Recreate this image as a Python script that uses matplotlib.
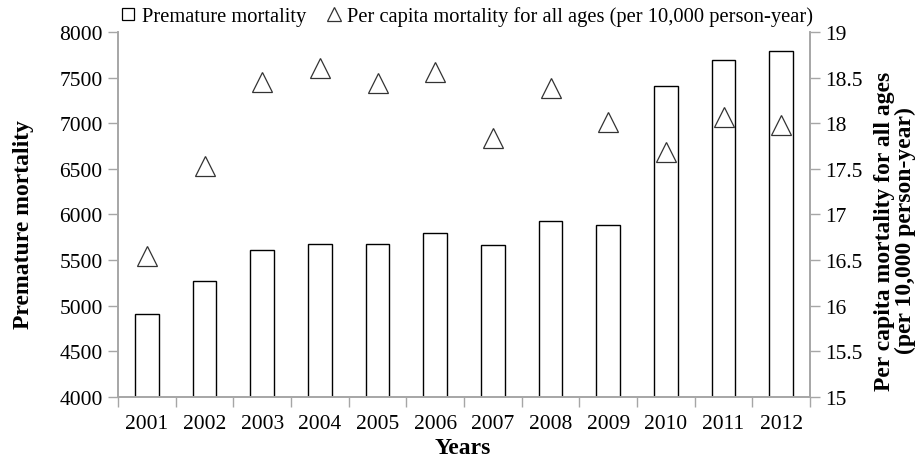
import numpy as np
import matplotlib
matplotlib.use("Agg")
import matplotlib.pyplot as plt
from matplotlib.lines import Line2D
from matplotlib.ticker import FixedLocator, NullFormatter

plt.rcParams["font.family"] = ["Liberation Serif", "DejaVu Serif"]

years = ["2001", "2002", "2003", "2004", "2005", "2006",
         "2007", "2008", "2009", "2010", "2011", "2012"]
premature = [4910, 5268, 5611, 5673, 5680, 5800,
             5670, 5930, 5890, 7405, 7693, 7788]
per_capita = [16.54, 17.53, 18.45, 18.61, 18.44, 18.56,
              17.84, 18.39, 18.01, 17.68, 18.07, 17.98]

GREY = "#a6a6a6"
TICK_FS = 15.5
LABEL_FS = 17

fig = plt.figure(figsize=(9.19, 4.6), dpi=100)
ax = fig.add_axes([0.1284, 0.1348, 0.753, 0.7935])
x = np.arange(len(years))

ax.bar(x, premature, width=0.41, color="white", edgecolor="black", lw=1.0, zorder=2)
ax.set_xlim(-0.5, len(years) - 0.5)
ax.set_ylim(4000, 8000)
ax.set_yticks(np.arange(4000, 8001, 500))
ax.set_xticks(x)
ax.set_xticklabels(years)
ax.xaxis.set_minor_locator(FixedLocator(np.arange(-0.5, len(years), 1.0)))
ax.xaxis.set_minor_formatter(NullFormatter())
ax.tick_params(axis="x", which="major", length=0, pad=12, labelsize=TICK_FS)
ax.tick_params(axis="x", which="minor", length=7, color=GREY, width=1)
ax.tick_params(axis="y", length=7, color=GREY, width=1, labelsize=TICK_FS, pad=4)

ax2 = ax.twinx()
ax2.plot(x, per_capita, ls="none", marker="^", ms=14, mfc="white",
         mec="#333333", mew=0.9, zorder=3)
ax2.set_ylim(15, 19)
ax2.set_yticks([15, 15.5, 16, 16.5, 17, 17.5, 18, 18.5, 19])
ax2.set_yticklabels(["15", "15.5", "16", "16.5", "17", "17.5", "18", "18.5", "19"])
ax2.tick_params(axis="y", length=7, color=GREY, width=1, labelsize=TICK_FS, pad=4)

for a in (ax, ax2):
    a.spines["top"].set_visible(False)
    for s in ("left", "right", "bottom"):
        a.spines[s].set_color(GREY)
        a.spines[s].set_linewidth(1.2)
ax.set_zorder(ax2.get_zorder() - 1)
ax.patch.set_visible(True)
ax2.patch.set_visible(False)

# axis titles placed in figure coordinates
fig.text(463 / 919, 1 - 449 / 460, "Years", fontsize=LABEL_FS, fontweight="bold",
         ha="center", va="center")
fig.text(24 / 919, 1 - 225 / 460, "Premature mortality", fontsize=LABEL_FS,
         fontweight="bold", rotation=90, ha="center", va="center")
fig.text(895 / 919, 1 - 231 / 460,
         "Per capita mortality for all ages\n(per 10,000 person-year)",
         fontsize=LABEL_FS, fontweight="bold", rotation=90, ha="center",
         va="center", linespacing=1.05, multialignment="center")

handles = [
    Line2D([], [], ls="none", marker="s", ms=8, mfc="white", mec="black", mew=0.9),
    Line2D([], [], ls="none", marker="^", ms=10, mfc="white", mec="#333333", mew=0.9),
]
fig.legend(handles, ["Premature mortality",
                     "Per capita mortality for all ages (per 10,000 person-year)"],
           loc="center", bbox_to_anchor=(467 / 919, 0.962), ncol=2, frameon=False,
           fontsize=14.8, handlelength=0.7, handletextpad=0.3, columnspacing=1.0,
           borderaxespad=0)

fig.savefig("out.png", dpi=100)
